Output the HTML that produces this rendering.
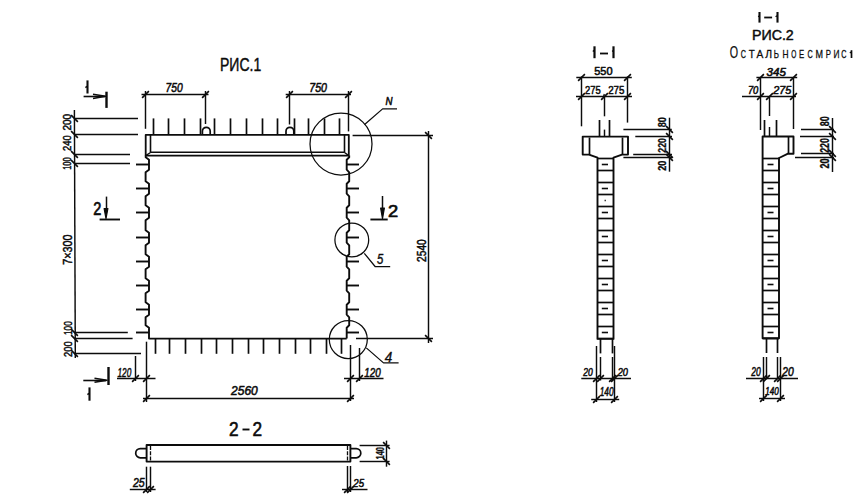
<!DOCTYPE html>
<html><head><meta charset="utf-8"><style>
html,body{margin:0;padding:0;background:#fff;width:860px;height:499px;overflow:hidden}
svg{display:block}
text{font-family:"Liberation Sans",sans-serif;fill:#0c0c0c;stroke:none}
</style></head><body>
<svg width="860" height="499" viewBox="0 0 860 499">
<g stroke="#0c0c0c" stroke-linecap="butt" stroke-linejoin="round" fill="none">
<text x="220.03" y="71.48" font-size="18.13" textLength="41.15" lengthAdjust="spacingAndGlyphs" style="stroke:#0c0c0c;stroke-width:0.45px">РИС.1</text>
<line x1="87.5" y1="80.4" x2="87.5" y2="93.5" stroke-width="2.1"/>
<line x1="85.4" y1="87.6" x2="87" y2="86.4" stroke-width="1.5"/>
<line x1="83.6" y1="96.5" x2="105" y2="96.5" stroke-width="1.6"/>
<path d="M93,94.3 L105.5,96.3 L93,98.4" stroke-width="1.5" fill="none"/>
<line x1="106.5" y1="91.7" x2="106.5" y2="107.9" stroke-width="2.4"/>
<line x1="89.5" y1="387.4" x2="89.5" y2="400.7" stroke-width="2.1"/>
<line x1="87.4" y1="394.6" x2="89" y2="393.4" stroke-width="1.5"/>
<line x1="83.3" y1="380.5" x2="106" y2="380.5" stroke-width="1.6"/>
<path d="M94.5,378.2 L107,380.2 L94.5,382.3" stroke-width="1.5" fill="none"/>
<line x1="108.5" y1="367" x2="108.5" y2="385" stroke-width="2.4"/>
<text x="93.35" y="215.05" font-size="18.02" textLength="8.1" lengthAdjust="spacingAndGlyphs" style="stroke:#0c0c0c;stroke-width:0.7px">2</text>
<line x1="106.5" y1="196.6" x2="106.5" y2="212" stroke-width="1.5"/>
<path d="M104.1,208.5 L106,218.7 L107.9,208.5 Z" stroke-width="1.2" fill="#0c0c0c"/>
<line x1="99.6" y1="219.5" x2="120" y2="219.5" stroke-width="1.9"/>
<line x1="382.5" y1="196" x2="382.5" y2="212" stroke-width="1.5"/>
<path d="M380.6,208 L382.5,218.7 L384.4,208 Z" stroke-width="1.2" fill="#0c0c0c"/>
<line x1="370.4" y1="219.5" x2="387.7" y2="219.5" stroke-width="1.9"/>
<text x="388.05" y="216.95" font-size="17.18" textLength="10.2" lengthAdjust="spacingAndGlyphs" style="stroke:#0c0c0c;stroke-width:0.7px">2</text>
<line x1="74.4" y1="110" x2="75.3" y2="358" stroke-width="1.45"/>
<line x1="71.1" y1="115.1" x2="77.9" y2="121.9" stroke-width="1.6"/>
<line x1="71.1" y1="131.1" x2="77.9" y2="137.9" stroke-width="1.6"/>
<line x1="71.1" y1="151.1" x2="77.9" y2="157.9" stroke-width="1.6"/>
<line x1="71.1" y1="160.1" x2="77.9" y2="166.9" stroke-width="1.6"/>
<line x1="71.1" y1="329.1" x2="77.9" y2="335.9" stroke-width="1.6"/>
<line x1="71.1" y1="335.1" x2="77.9" y2="341.9" stroke-width="1.6"/>
<line x1="71.1" y1="350.1" x2="77.9" y2="356.9" stroke-width="1.6"/>
<line x1="74" y1="118.5" x2="138" y2="118.5" stroke-width="1.45"/>
<line x1="74" y1="134.5" x2="138" y2="134.5" stroke-width="1.45"/>
<line x1="74" y1="154.5" x2="130" y2="154.5" stroke-width="1.45"/>
<line x1="74" y1="163.5" x2="130" y2="163.5" stroke-width="1.45"/>
<line x1="74" y1="332.5" x2="127.8" y2="332.5" stroke-width="1.45"/>
<line x1="74" y1="338.5" x2="132.6" y2="338.5" stroke-width="1.45"/>
<line x1="74" y1="353.5" x2="141" y2="353.5" stroke-width="1.45"/>
<text transform="translate(71.45,130.55) rotate(-90)" x="0" y="0" font-size="11.65" textLength="16.7" lengthAdjust="spacingAndGlyphs" style="stroke:#0c0c0c;stroke-width:0.5px">200</text>
<text transform="translate(71.35,150.95) rotate(-90)" x="0" y="0" font-size="11.51" textLength="15.7" lengthAdjust="spacingAndGlyphs" style="stroke:#0c0c0c;stroke-width:0.5px">240</text>
<text transform="translate(71.35,169.85) rotate(-90)" x="0" y="0" font-size="11.51" textLength="12.6" lengthAdjust="spacingAndGlyphs" style="stroke:#0c0c0c;stroke-width:0.5px">100</text>
<text transform="translate(71.95,264.75) rotate(-90)" x="0" y="0" font-size="12.63" textLength="30.3" lengthAdjust="spacingAndGlyphs" style="stroke:#0c0c0c;stroke-width:0.5px">7×300</text>
<text transform="translate(71.75,335.05) rotate(-90)" x="0" y="0" font-size="11.79" textLength="13.9" lengthAdjust="spacingAndGlyphs" style="stroke:#0c0c0c;stroke-width:0.5px">100</text>
<text transform="translate(71.75,357.05) rotate(-90)" x="0" y="0" font-size="11.79" textLength="15.7" lengthAdjust="spacingAndGlyphs" style="stroke:#0c0c0c;stroke-width:0.5px">200</text>
<line x1="141.5" y1="94.5" x2="208.5" y2="94.5" stroke-width="1.45"/>
<line x1="142.1" y1="97.9" x2="148.9" y2="91.1" stroke-width="1.6"/>
<line x1="202.1" y1="97.9" x2="208.9" y2="91.1" stroke-width="1.6"/>
<line x1="145.5" y1="91" x2="145.5" y2="128.8" stroke-width="1.45"/>
<line x1="205.5" y1="91" x2="205.5" y2="124" stroke-width="1.45"/>
<text x="165.58" y="92.12" font-size="12.58" textLength="17.15" lengthAdjust="spacingAndGlyphs" font-style="italic" style="stroke:#0c0c0c;stroke-width:0.55px">750</text>
<line x1="285.7" y1="94.5" x2="351" y2="94.5" stroke-width="1.45"/>
<line x1="286.1" y1="97.9" x2="292.9" y2="91.1" stroke-width="1.6"/>
<line x1="345.1" y1="97.9" x2="351.9" y2="91.1" stroke-width="1.6"/>
<line x1="289.5" y1="91" x2="289.5" y2="124.5" stroke-width="1.45"/>
<line x1="348.5" y1="91" x2="348.5" y2="131.4" stroke-width="1.45"/>
<text x="309.27" y="92.12" font-size="12.58" textLength="17.75" lengthAdjust="spacingAndGlyphs" font-style="italic" style="stroke:#0c0c0c;stroke-width:0.55px">750</text>
<path d="M145.7,155.6 V134.8 H348.8 V155.6 Z" stroke-width="1.8" fill="none"/>
<line x1="150.5" y1="134.8" x2="150.5" y2="152.3" stroke-width="1.6"/>
<line x1="344.5" y1="134.8" x2="344.5" y2="152.3" stroke-width="1.6"/>
<path d="M150.9,152.3 H344.2" stroke-width="1.5" fill="none"/>
<path d="M145.7,155.6 L150.9,152.3 M348.8,155.6 L344.2,152.3" stroke-width="1.3" fill="none"/>
<line x1="153.5" y1="118.4" x2="153.5" y2="134.8" stroke-width="1.7"/>
<line x1="168.5" y1="118.4" x2="168.5" y2="134.8" stroke-width="1.7"/>
<line x1="184.5" y1="118.4" x2="184.5" y2="134.8" stroke-width="1.7"/>
<line x1="200.5" y1="118.4" x2="200.5" y2="134.8" stroke-width="1.7"/>
<line x1="214.5" y1="118.4" x2="214.5" y2="134.8" stroke-width="1.7"/>
<line x1="230.5" y1="118.4" x2="230.5" y2="134.8" stroke-width="1.7"/>
<line x1="246.5" y1="118.4" x2="246.5" y2="134.8" stroke-width="1.7"/>
<line x1="262.5" y1="118.4" x2="262.5" y2="134.8" stroke-width="1.7"/>
<line x1="277.5" y1="118.4" x2="277.5" y2="134.8" stroke-width="1.7"/>
<line x1="294.5" y1="118.4" x2="294.5" y2="134.8" stroke-width="1.7"/>
<line x1="308.5" y1="118.4" x2="308.5" y2="134.8" stroke-width="1.7"/>
<line x1="324.5" y1="118.4" x2="324.5" y2="134.8" stroke-width="1.7"/>
<line x1="339.5" y1="118.4" x2="339.5" y2="134.8" stroke-width="1.7"/>
<path d="M202.4,134.8 V131.2 A3.9,3.9 0 0 1 210.2,131.2 V134.8" stroke-width="1.7" fill="none"/>
<path d="M286,134.8 V131.2 A3.9,3.9 0 0 1 293.8,131.2 V134.8" stroke-width="1.7" fill="none"/>
<path d="M145.7,155.5 V157.3 L149,159.7 V169.7 L145.6,172.3 V181.3 L149,183.7 V193.7 L145.6,196.3 V205.3 L149,207.7 V217.7 L145.6,220.3 V230.3 L149,232.7 V242.7 L145.6,245.3 V254.3 L149,256.7 V266.7 L145.6,269.3 V278.3 L149,280.7 V290.7 L145.6,293.3 V302.3 L149,304.7 V314.7 L145.6,317.3 V325.3 L149,327.7 V338.6 H346.7" stroke-width="1.9" fill="none"/>
<path d="M346.7,338.6 V327.7 L349.2,325.3 V317.3 L346.7,314.7 V304.7 L349.2,302.3 V293.3 L346.7,290.7 V280.7 L349.2,278.3 V269.3 L346.7,266.7 V256.7 L349.2,254.3 V245.3 L346.7,242.7 V232.7 L349.2,230.3 V220.3 L346.7,217.7 V207.7 L349.2,205.3 V196.3 L346.7,193.7 V183.7 L349.2,181.3 V172.3 L346.7,169.7 V159.7 L349.2,157.3 V155.5" stroke-width="1.9" fill="none"/>
<line x1="136" y1="164.5" x2="149" y2="164.5" stroke-width="1.9"/>
<line x1="346.7" y1="164.5" x2="359" y2="164.5" stroke-width="1.9"/>
<line x1="136" y1="188.5" x2="149" y2="188.5" stroke-width="1.9"/>
<line x1="346.7" y1="188.5" x2="359" y2="188.5" stroke-width="1.9"/>
<line x1="136" y1="212.5" x2="149" y2="212.5" stroke-width="1.9"/>
<line x1="346.7" y1="212.5" x2="359" y2="212.5" stroke-width="1.9"/>
<line x1="136" y1="237.5" x2="149" y2="237.5" stroke-width="1.9"/>
<line x1="346.7" y1="237.5" x2="359" y2="237.5" stroke-width="1.9"/>
<line x1="136" y1="261.5" x2="149" y2="261.5" stroke-width="1.9"/>
<line x1="346.7" y1="261.5" x2="359" y2="261.5" stroke-width="1.9"/>
<line x1="136" y1="285.5" x2="149" y2="285.5" stroke-width="1.9"/>
<line x1="346.7" y1="285.5" x2="359" y2="285.5" stroke-width="1.9"/>
<line x1="136" y1="309.5" x2="149" y2="309.5" stroke-width="1.9"/>
<line x1="346.7" y1="309.5" x2="359" y2="309.5" stroke-width="1.9"/>
<line x1="136" y1="332.5" x2="149" y2="332.5" stroke-width="1.9"/>
<line x1="346.7" y1="332.5" x2="359" y2="332.5" stroke-width="1.9"/>
<line x1="155.5" y1="338.6" x2="155.5" y2="353.8" stroke-width="1.7"/>
<line x1="169.5" y1="338.6" x2="169.5" y2="353.8" stroke-width="1.7"/>
<line x1="185.5" y1="338.6" x2="185.5" y2="353.8" stroke-width="1.7"/>
<line x1="201.5" y1="338.6" x2="201.5" y2="353.8" stroke-width="1.7"/>
<line x1="216.5" y1="338.6" x2="216.5" y2="353.8" stroke-width="1.7"/>
<line x1="232.5" y1="338.6" x2="232.5" y2="353.8" stroke-width="1.7"/>
<line x1="248.5" y1="338.6" x2="248.5" y2="353.8" stroke-width="1.7"/>
<line x1="263.5" y1="338.6" x2="263.5" y2="353.8" stroke-width="1.7"/>
<line x1="279.5" y1="338.6" x2="279.5" y2="353.8" stroke-width="1.7"/>
<line x1="295.5" y1="338.6" x2="295.5" y2="353.8" stroke-width="1.7"/>
<line x1="310.5" y1="338.6" x2="310.5" y2="353.8" stroke-width="1.7"/>
<line x1="326.5" y1="338.6" x2="326.5" y2="353.8" stroke-width="1.7"/>
<line x1="341.5" y1="338.6" x2="341.5" y2="353.8" stroke-width="1.7"/>
<circle cx="341" cy="144" r="31" stroke-width="1.25" fill="none"/>
<path d="M364.6,124.5 L382.6,108.9 H397" stroke-width="1.25" fill="none"/>
<text x="385.5" y="105" font-size="10" font-style="italic" style="stroke:#0c0c0c;stroke-width:0.5px" textLength="7" lengthAdjust="spacingAndGlyphs">N</text>
<circle cx="351.8" cy="240" r="16.9" stroke-width="1.25" fill="none"/>
<path d="M364.3,253.3 L375.1,266.5 H390.2" stroke-width="1.25" fill="none"/>
<text x="377" y="264.3" font-size="13.8" font-style="italic" style="stroke:#0c0c0c;stroke-width:0.4px" textLength="6.3" lengthAdjust="spacingAndGlyphs">5</text>
<circle cx="348.3" cy="339.5" r="19" stroke-width="1.25" fill="none"/>
<path d="M366.3,347.9 L383.5,362.9 H398.6" stroke-width="1.25" fill="none"/>
<text x="384.8" y="362" font-size="14" font-style="italic" style="stroke:#0c0c0c;stroke-width:0.4px" textLength="7.5" lengthAdjust="spacingAndGlyphs">4</text>
<line x1="352.6" y1="135.5" x2="433" y2="135.5" stroke-width="1.45"/>
<line x1="356" y1="338.5" x2="433" y2="338.5" stroke-width="1.45"/>
<line x1="428.5" y1="131" x2="428.5" y2="343" stroke-width="1.45"/>
<line x1="425.1" y1="132.1" x2="431.9" y2="138.9" stroke-width="1.6"/>
<line x1="425.1" y1="335.1" x2="431.9" y2="341.9" stroke-width="1.6"/>
<text transform="translate(425.75,261.95) rotate(-90)" x="0" y="0" font-size="12.07" textLength="22.7" lengthAdjust="spacingAndGlyphs" style="stroke:#0c0c0c;stroke-width:0.5px">2540</text>
<line x1="146.5" y1="341.7" x2="146.5" y2="402" stroke-width="1.45"/>
<line x1="135.5" y1="356" x2="135.5" y2="381" stroke-width="1.45"/>
<line x1="117" y1="378.5" x2="155.5" y2="378.5" stroke-width="1.45"/>
<line x1="132.1" y1="381.9" x2="138.9" y2="375.1" stroke-width="1.6"/>
<line x1="143.1" y1="381.9" x2="149.9" y2="375.1" stroke-width="1.6"/>
<text x="117.48" y="376.73" font-size="13.42" textLength="13.75" lengthAdjust="spacingAndGlyphs" font-style="italic" style="stroke:#0c0c0c;stroke-width:0.55px">120</text>
<line x1="350.5" y1="345" x2="350.5" y2="401" stroke-width="1.45"/>
<line x1="359.5" y1="348" x2="359.5" y2="381" stroke-width="1.45"/>
<line x1="344" y1="378.5" x2="383.5" y2="378.5" stroke-width="1.45"/>
<line x1="347.1" y1="381.9" x2="353.9" y2="375.1" stroke-width="1.6"/>
<line x1="356.1" y1="381.9" x2="362.9" y2="375.1" stroke-width="1.6"/>
<text x="364.27" y="376.53" font-size="12.44" textLength="16.45" lengthAdjust="spacingAndGlyphs" font-style="italic" style="stroke:#0c0c0c;stroke-width:0.55px">120</text>
<line x1="143" y1="398.5" x2="354" y2="398.5" stroke-width="1.45"/>
<line x1="143.1" y1="401.9" x2="149.9" y2="395.1" stroke-width="1.6"/>
<line x1="347.1" y1="401.9" x2="353.9" y2="395.1" stroke-width="1.6"/>
<text x="231.08" y="394.93" font-size="12.3" textLength="26.65" lengthAdjust="spacingAndGlyphs" font-style="italic" style="stroke:#0c0c0c;stroke-width:0.55px">2560</text>
<text x="228.9" y="435.7" font-size="19.37" textLength="9.6" lengthAdjust="spacingAndGlyphs" style="stroke:#0c0c0c;stroke-width:0.6px">2</text>
<text x="252.6" y="435.7" font-size="19.37" textLength="9.6" lengthAdjust="spacingAndGlyphs" style="stroke:#0c0c0c;stroke-width:0.6px">2</text>
<line x1="242.5" y1="429.5" x2="249.5" y2="429.5" stroke-width="1.9"/>
<path d="M146.6,445 H350.4 V461.6 H146.6 Z" stroke-width="1.9" fill="none"/>
<path d="M150.5,446 V461 M347.5,446 V461" stroke-width="1.3" stroke-dasharray="4,1.2"/>
<path d="M146.6,448.6 H140.3 A4.6,4.6 0 0 0 140.3,457.8 H146.6" stroke-width="1.7" fill="none"/>
<path d="M350.4,448.6 H356.2 A4.6,4.6 0 0 1 356.2,457.8 H350.4" stroke-width="1.7" fill="none"/>
<line x1="146.5" y1="466.7" x2="146.5" y2="492" stroke-width="1.45"/>
<line x1="150.5" y1="466.7" x2="150.5" y2="492" stroke-width="1.45"/>
<line x1="129.8" y1="489.5" x2="155.6" y2="489.5" stroke-width="1.45"/>
<line x1="143.1" y1="492.9" x2="149.9" y2="486.1" stroke-width="1.6"/>
<line x1="147.1" y1="492.9" x2="153.9" y2="486.1" stroke-width="1.6"/>
<text x="132.97" y="486.93" font-size="12.02" textLength="11.75" lengthAdjust="spacingAndGlyphs" font-style="italic" style="stroke:#0c0c0c;stroke-width:0.55px">25</text>
<line x1="347.5" y1="466" x2="347.5" y2="492" stroke-width="1.45"/>
<line x1="350.5" y1="466" x2="350.5" y2="492" stroke-width="1.45"/>
<line x1="342" y1="489.5" x2="367.5" y2="489.5" stroke-width="1.45"/>
<line x1="344.1" y1="492.9" x2="350.9" y2="486.1" stroke-width="1.6"/>
<line x1="347.1" y1="492.9" x2="353.9" y2="486.1" stroke-width="1.6"/>
<text x="353.27" y="486.93" font-size="10.48" textLength="10.75" lengthAdjust="spacingAndGlyphs" font-style="italic" style="stroke:#0c0c0c;stroke-width:0.55px">25</text>
<line x1="359.6" y1="445.5" x2="389.6" y2="445.5" stroke-width="1.45"/>
<line x1="359.6" y1="461.5" x2="389.6" y2="461.5" stroke-width="1.45"/>
<line x1="386.5" y1="440.6" x2="386.5" y2="466.7" stroke-width="1.45"/>
<line x1="383.1" y1="442.1" x2="389.9" y2="448.9" stroke-width="1.6"/>
<line x1="383.1" y1="458.1" x2="389.9" y2="464.9" stroke-width="1.6"/>
<text transform="translate(384.35,459.45) rotate(-90)" x="0" y="0" font-size="10.17" textLength="12.3" lengthAdjust="spacingAndGlyphs" font-weight="bold" style="stroke:#0c0c0c;stroke-width:0.3px">140</text>
<line x1="594.5" y1="46.3" x2="594.5" y2="58.2" stroke-width="2.2"/>
<line x1="592.8" y1="51.5" x2="594.3" y2="50.3" stroke-width="1.4"/>
<line x1="600" y1="53.5" x2="608" y2="53.5" stroke-width="1.8"/>
<line x1="613.5" y1="46.3" x2="613.5" y2="58.2" stroke-width="2.2"/>
<line x1="612.2" y1="51.5" x2="613.7" y2="50.3" stroke-width="1.4"/>
<text x="594.17" y="75.12" font-size="11.18" textLength="18.35" lengthAdjust="spacingAndGlyphs" style="stroke:#0c0c0c;stroke-width:0.55px">550</text>
<line x1="576.3" y1="77.5" x2="631.8" y2="77.5" stroke-width="1.45"/>
<line x1="578.1" y1="80.9" x2="584.9" y2="74.1" stroke-width="1.6"/>
<line x1="624.1" y1="80.9" x2="630.9" y2="74.1" stroke-width="1.6"/>
<line x1="576" y1="96.5" x2="632" y2="96.5" stroke-width="1.45"/>
<line x1="578.1" y1="99.9" x2="584.9" y2="93.1" stroke-width="1.6"/>
<line x1="601.1" y1="99.9" x2="607.9" y2="93.1" stroke-width="1.6"/>
<line x1="624.1" y1="99.9" x2="630.9" y2="93.1" stroke-width="1.6"/>
<text x="584.98" y="93.92" font-size="11.74" textLength="15.65" lengthAdjust="spacingAndGlyphs" style="stroke:#0c0c0c;stroke-width:0.55px">275</text>
<text x="608.17" y="93.92" font-size="11.74" textLength="16.25" lengthAdjust="spacingAndGlyphs" style="stroke:#0c0c0c;stroke-width:0.55px">275</text>
<line x1="604.3" y1="94" x2="603.6" y2="96.5" stroke-width="1.3"/>
<line x1="581.5" y1="76.5" x2="581.5" y2="126.3" stroke-width="1.45"/>
<line x1="627.5" y1="76.5" x2="627.5" y2="122.6" stroke-width="1.45"/>
<line x1="604.5" y1="96" x2="604.5" y2="116.3" stroke-width="1.45"/>
<line x1="604.5" y1="129.6" x2="604.5" y2="136.6" stroke-width="1.45"/>
<line x1="599.5" y1="120" x2="599.5" y2="136.6" stroke-width="1.7"/>
<line x1="609.5" y1="120" x2="609.5" y2="136.6" stroke-width="1.7"/>
<path d="M589,154.6 H582.7 V136.6 H628 V154.6 H622 L613.5,157.7 V338.9 H597.5 V157.7 Z" stroke-width="1.9" fill="none"/>
<line x1="589.5" y1="137.5" x2="589.5" y2="154.6" stroke-width="1.7"/>
<line x1="622.5" y1="137.5" x2="622.5" y2="154.6" stroke-width="1.7"/>
<line x1="597.5" y1="158.5" x2="613.5" y2="158.5" stroke-width="1.7"/>
<line x1="597.5" y1="170.5" x2="613.5" y2="170.5" stroke-width="1.7"/>
<line x1="597.5" y1="182.5" x2="613.5" y2="182.5" stroke-width="1.7"/>
<line x1="597.5" y1="194.5" x2="613.5" y2="194.5" stroke-width="1.7"/>
<line x1="597.5" y1="206.5" x2="613.5" y2="206.5" stroke-width="1.7"/>
<line x1="597.5" y1="218.5" x2="613.5" y2="218.5" stroke-width="1.7"/>
<line x1="597.5" y1="230.5" x2="613.5" y2="230.5" stroke-width="1.7"/>
<line x1="597.5" y1="242.5" x2="613.5" y2="242.5" stroke-width="1.7"/>
<line x1="597.5" y1="254.5" x2="613.5" y2="254.5" stroke-width="1.7"/>
<line x1="597.5" y1="266.5" x2="613.5" y2="266.5" stroke-width="1.7"/>
<line x1="597.5" y1="278.5" x2="613.5" y2="278.5" stroke-width="1.7"/>
<line x1="597.5" y1="290.5" x2="613.5" y2="290.5" stroke-width="1.7"/>
<line x1="597.5" y1="302.5" x2="613.5" y2="302.5" stroke-width="1.7"/>
<line x1="597.5" y1="314.5" x2="613.5" y2="314.5" stroke-width="1.7"/>
<line x1="597.5" y1="326.5" x2="613.5" y2="326.5" stroke-width="1.7"/>
<line x1="597.5" y1="338.5" x2="613.5" y2="338.5" stroke-width="1.7"/>
<line x1="601.8" y1="164.5" x2="608" y2="164.5" stroke-width="1.6"/>
<line x1="601.8" y1="188.5" x2="608" y2="188.5" stroke-width="1.6"/>
<line x1="601.8" y1="212.5" x2="608" y2="212.5" stroke-width="1.6"/>
<line x1="601.8" y1="236.5" x2="608" y2="236.5" stroke-width="1.6"/>
<line x1="601.8" y1="260.5" x2="608" y2="260.5" stroke-width="1.6"/>
<line x1="601.8" y1="284.5" x2="608" y2="284.5" stroke-width="1.6"/>
<line x1="601.8" y1="308.5" x2="608" y2="308.5" stroke-width="1.6"/>
<line x1="601.8" y1="332.5" x2="608" y2="332.5" stroke-width="1.6"/>
<line x1="604.6" y1="200.5" x2="605.8" y2="200.5" stroke-width="1.4"/>
<line x1="600.5" y1="338.9" x2="600.5" y2="353.4" stroke-width="1.7"/>
<line x1="612.5" y1="338.9" x2="612.5" y2="353.4" stroke-width="1.7"/>
<line x1="600.5" y1="357" x2="600.5" y2="380.5" stroke-width="1.45"/>
<line x1="612.5" y1="357" x2="612.5" y2="380.5" stroke-width="1.45"/>
<line x1="596.5" y1="346" x2="596.5" y2="402" stroke-width="1.45"/>
<line x1="614.5" y1="346" x2="614.5" y2="402" stroke-width="1.45"/>
<line x1="581.3" y1="378.5" x2="631" y2="378.5" stroke-width="1.45"/>
<line x1="593.1" y1="381.9" x2="599.9" y2="375.1" stroke-width="1.6"/>
<line x1="597.1" y1="381.9" x2="603.9" y2="375.1" stroke-width="1.6"/>
<line x1="609.1" y1="381.9" x2="615.9" y2="375.1" stroke-width="1.6"/>
<line x1="611.1" y1="381.9" x2="617.9" y2="375.1" stroke-width="1.6"/>
<text x="583.27" y="375.73" font-size="10.9" textLength="9.45" lengthAdjust="spacingAndGlyphs" font-style="italic" style="stroke:#0c0c0c;stroke-width:0.55px">20</text>
<text x="617.67" y="375.73" font-size="10.9" textLength="10.25" lengthAdjust="spacingAndGlyphs" font-style="italic" style="stroke:#0c0c0c;stroke-width:0.55px">20</text>
<line x1="591.2" y1="399.5" x2="619.2" y2="399.5" stroke-width="1.45"/>
<line x1="593.1" y1="402.9" x2="599.9" y2="396.1" stroke-width="1.6"/>
<line x1="611.1" y1="402.9" x2="617.9" y2="396.1" stroke-width="1.6"/>
<text x="599.67" y="396.43" font-size="12.02" textLength="13.85" lengthAdjust="spacingAndGlyphs" font-style="italic" style="stroke:#0c0c0c;stroke-width:0.55px">140</text>
<line x1="623.4" y1="129.5" x2="671.8" y2="129.5" stroke-width="1.45"/>
<line x1="635.3" y1="136.5" x2="672" y2="136.5" stroke-width="1.45"/>
<line x1="633.2" y1="154.5" x2="672" y2="154.5" stroke-width="1.45"/>
<line x1="623.4" y1="157.5" x2="672" y2="157.5" stroke-width="1.45"/>
<line x1="669.5" y1="117.7" x2="669.5" y2="171.7" stroke-width="1.45"/>
<line x1="666.1" y1="126.1" x2="672.9" y2="132.9" stroke-width="1.6"/>
<line x1="666.1" y1="133.1" x2="672.9" y2="139.9" stroke-width="1.6"/>
<line x1="666.1" y1="151.1" x2="672.9" y2="157.9" stroke-width="1.6"/>
<line x1="666.1" y1="154.1" x2="672.9" y2="160.9" stroke-width="1.6"/>
<text transform="translate(666.35,127.35) rotate(-90)" x="0" y="0" font-size="11.57" textLength="10.2" lengthAdjust="spacingAndGlyphs" font-weight="bold" style="stroke:#0c0c0c;stroke-width:0.3px">80</text>
<text transform="translate(666.35,152.65) rotate(-90)" x="0" y="0" font-size="11.57" textLength="14.5" lengthAdjust="spacingAndGlyphs" font-weight="bold" style="stroke:#0c0c0c;stroke-width:0.3px">220</text>
<text transform="translate(666.35,170.85) rotate(-90)" x="0" y="0" font-size="11.57" textLength="10.2" lengthAdjust="spacingAndGlyphs" font-weight="bold" style="stroke:#0c0c0c;stroke-width:0.3px">20</text>
<line x1="759.5" y1="12" x2="759.5" y2="22.6" stroke-width="2.1"/>
<line x1="758.2" y1="16.8" x2="759.6" y2="15.8" stroke-width="1.4"/>
<line x1="764.2" y1="17.5" x2="772.1" y2="17.5" stroke-width="1.8"/>
<line x1="777.5" y1="12" x2="777.5" y2="22.6" stroke-width="2.1"/>
<line x1="775.6" y1="16.8" x2="777" y2="15.8" stroke-width="1.4"/>
<text x="751.93" y="40.07" font-size="13.8" textLength="41.85" lengthAdjust="spacingAndGlyphs" style="stroke:#0c0c0c;stroke-width:0.45px">РИС.2</text>
<text x="729.83" y="57.88" font-size="16.09" textLength="8.35" lengthAdjust="spacingAndGlyphs" style="stroke:#0c0c0c;stroke-width:0.25px">О</text>
<text x="740.85" y="57.85" font-size="11.15" textLength="5.2" lengthAdjust="spacingAndGlyphs" style="stroke:#0c0c0c;stroke-width:0.3px">С</text>
<text x="748.65" y="57.85" font-size="11.15" textLength="6" lengthAdjust="spacingAndGlyphs" style="stroke:#0c0c0c;stroke-width:0.3px">Т</text>
<text x="756.55" y="57.85" font-size="11.15" textLength="6.8" lengthAdjust="spacingAndGlyphs" style="stroke:#0c0c0c;stroke-width:0.3px">А</text>
<text x="765.15" y="57.85" font-size="11.15" textLength="6.8" lengthAdjust="spacingAndGlyphs" style="stroke:#0c0c0c;stroke-width:0.3px">Л</text>
<text x="773.85" y="57.85" font-size="11.15" textLength="5.2" lengthAdjust="spacingAndGlyphs" style="stroke:#0c0c0c;stroke-width:0.3px">Ь</text>
<text x="782.45" y="57.85" font-size="11.15" textLength="6" lengthAdjust="spacingAndGlyphs" style="stroke:#0c0c0c;stroke-width:0.3px">Н</text>
<text x="791.15" y="57.85" font-size="11.15" textLength="5.1" lengthAdjust="spacingAndGlyphs" style="stroke:#0c0c0c;stroke-width:0.3px">О</text>
<text x="798.95" y="57.85" font-size="11.15" textLength="5.2" lengthAdjust="spacingAndGlyphs" style="stroke:#0c0c0c;stroke-width:0.3px">Е</text>
<text x="807.55" y="57.85" font-size="11.15" textLength="5.2" lengthAdjust="spacingAndGlyphs" style="stroke:#0c0c0c;stroke-width:0.3px">С</text>
<text x="815.45" y="57.85" font-size="11.15" textLength="7.5" lengthAdjust="spacingAndGlyphs" style="stroke:#0c0c0c;stroke-width:0.3px">М</text>
<text x="825.65" y="57.85" font-size="11.15" textLength="5.2" lengthAdjust="spacingAndGlyphs" style="stroke:#0c0c0c;stroke-width:0.3px">Р</text>
<text x="833.45" y="57.85" font-size="11.15" textLength="6" lengthAdjust="spacingAndGlyphs" style="stroke:#0c0c0c;stroke-width:0.3px">И</text>
<text x="841.35" y="57.85" font-size="11.15" textLength="5.2" lengthAdjust="spacingAndGlyphs" style="stroke:#0c0c0c;stroke-width:0.3px">С</text>
<line x1="851.5" y1="50.2" x2="851.5" y2="58" stroke-width="1.7"/>
<line x1="849.8" y1="53" x2="851.5" y2="51.8" stroke-width="1.2"/>
<text x="766.57" y="75.72" font-size="10.2" textLength="19.25" lengthAdjust="spacingAndGlyphs" font-style="italic" style="stroke:#0c0c0c;stroke-width:0.55px">345</text>
<line x1="756.4" y1="77.5" x2="797.2" y2="77.5" stroke-width="1.45"/>
<line x1="757.1" y1="80.9" x2="763.9" y2="74.1" stroke-width="1.6"/>
<line x1="790.1" y1="80.9" x2="796.9" y2="74.1" stroke-width="1.6"/>
<line x1="742" y1="96.5" x2="796" y2="96.5" stroke-width="1.45"/>
<line x1="757.1" y1="99.9" x2="763.9" y2="93.1" stroke-width="1.6"/>
<line x1="766.1" y1="99.9" x2="772.9" y2="93.1" stroke-width="1.6"/>
<line x1="790.1" y1="99.9" x2="796.9" y2="93.1" stroke-width="1.6"/>
<text x="747.88" y="94.12" font-size="10.62" textLength="10.45" lengthAdjust="spacingAndGlyphs" font-style="italic" style="stroke:#0c0c0c;stroke-width:0.55px">70</text>
<text x="773.17" y="94.12" font-size="10.62" textLength="18.15" lengthAdjust="spacingAndGlyphs" font-style="italic" style="stroke:#0c0c0c;stroke-width:0.55px">275</text>
<line x1="760.5" y1="77" x2="760.5" y2="130" stroke-width="1.45"/>
<line x1="769.5" y1="96" x2="769.5" y2="116" stroke-width="1.45"/>
<line x1="769.5" y1="127" x2="769.5" y2="136.5" stroke-width="1.45"/>
<line x1="793.5" y1="77" x2="793.5" y2="129" stroke-width="1.45"/>
<line x1="764.5" y1="120" x2="764.5" y2="136.5" stroke-width="1.7"/>
<line x1="776.5" y1="120" x2="776.5" y2="136.5" stroke-width="1.7"/>
<path d="M762.6,338.2 V136.5 H793.5 V153.7 H788 L779,158 V338.2 Z" stroke-width="1.9" fill="none"/>
<line x1="788.5" y1="136.5" x2="788.5" y2="153.7" stroke-width="1.7"/>
<line x1="762.6" y1="158.5" x2="779" y2="158.5" stroke-width="1.7"/>
<line x1="762.6" y1="170.5" x2="779" y2="170.5" stroke-width="1.7"/>
<line x1="762.6" y1="182.5" x2="779" y2="182.5" stroke-width="1.7"/>
<line x1="762.6" y1="194.5" x2="779" y2="194.5" stroke-width="1.7"/>
<line x1="762.6" y1="206.5" x2="779" y2="206.5" stroke-width="1.7"/>
<line x1="762.6" y1="218.5" x2="779" y2="218.5" stroke-width="1.7"/>
<line x1="762.6" y1="230.5" x2="779" y2="230.5" stroke-width="1.7"/>
<line x1="762.6" y1="242.5" x2="779" y2="242.5" stroke-width="1.7"/>
<line x1="762.6" y1="254.5" x2="779" y2="254.5" stroke-width="1.7"/>
<line x1="762.6" y1="266.5" x2="779" y2="266.5" stroke-width="1.7"/>
<line x1="762.6" y1="278.5" x2="779" y2="278.5" stroke-width="1.7"/>
<line x1="762.6" y1="290.5" x2="779" y2="290.5" stroke-width="1.7"/>
<line x1="762.6" y1="302.5" x2="779" y2="302.5" stroke-width="1.7"/>
<line x1="762.6" y1="314.5" x2="779" y2="314.5" stroke-width="1.7"/>
<line x1="762.6" y1="326.5" x2="779" y2="326.5" stroke-width="1.7"/>
<line x1="762.6" y1="338.5" x2="779" y2="338.5" stroke-width="1.7"/>
<line x1="767.5" y1="164.5" x2="773.5" y2="164.5" stroke-width="1.6"/>
<line x1="767.5" y1="188.5" x2="773.5" y2="188.5" stroke-width="1.6"/>
<line x1="767.5" y1="212.5" x2="773.5" y2="212.5" stroke-width="1.6"/>
<line x1="767.5" y1="236.5" x2="773.5" y2="236.5" stroke-width="1.6"/>
<line x1="767.5" y1="260.5" x2="773.5" y2="260.5" stroke-width="1.6"/>
<line x1="767.5" y1="284.5" x2="773.5" y2="284.5" stroke-width="1.6"/>
<line x1="767.5" y1="308.5" x2="773.5" y2="308.5" stroke-width="1.6"/>
<line x1="767.5" y1="332.5" x2="773.5" y2="332.5" stroke-width="1.6"/>
<line x1="766.5" y1="338.2" x2="766.5" y2="353" stroke-width="1.7"/>
<line x1="777.5" y1="338.2" x2="777.5" y2="353" stroke-width="1.7"/>
<line x1="766.5" y1="357" x2="766.5" y2="378" stroke-width="1.45"/>
<line x1="777.5" y1="357" x2="777.5" y2="378" stroke-width="1.45"/>
<line x1="763.5" y1="357" x2="763.5" y2="401" stroke-width="1.45"/>
<line x1="780.5" y1="357" x2="780.5" y2="401" stroke-width="1.45"/>
<line x1="746" y1="378.5" x2="798" y2="378.5" stroke-width="1.45"/>
<line x1="760.1" y1="381.9" x2="766.9" y2="375.1" stroke-width="1.6"/>
<line x1="763.1" y1="381.9" x2="769.9" y2="375.1" stroke-width="1.6"/>
<line x1="774.1" y1="381.9" x2="780.9" y2="375.1" stroke-width="1.6"/>
<line x1="777.1" y1="381.9" x2="783.9" y2="375.1" stroke-width="1.6"/>
<text x="751.27" y="375.73" font-size="12.02" textLength="9.45" lengthAdjust="spacingAndGlyphs" font-style="italic" style="stroke:#0c0c0c;stroke-width:0.55px">20</text>
<text x="782.27" y="375.73" font-size="12.02" textLength="11.45" lengthAdjust="spacingAndGlyphs" font-style="italic" style="stroke:#0c0c0c;stroke-width:0.55px">20</text>
<line x1="759" y1="398.5" x2="785" y2="398.5" stroke-width="1.45"/>
<line x1="760.1" y1="401.9" x2="766.9" y2="395.1" stroke-width="1.6"/>
<line x1="777.1" y1="401.9" x2="783.9" y2="395.1" stroke-width="1.6"/>
<text x="765.27" y="394.73" font-size="10.62" textLength="13.45" lengthAdjust="spacingAndGlyphs" font-style="italic" style="stroke:#0c0c0c;stroke-width:0.55px">140</text>
<line x1="801" y1="129.5" x2="834" y2="129.5" stroke-width="1.45"/>
<line x1="800" y1="136.5" x2="834" y2="136.5" stroke-width="1.45"/>
<line x1="801" y1="153.5" x2="834" y2="153.5" stroke-width="1.45"/>
<line x1="795" y1="157.5" x2="834" y2="157.5" stroke-width="1.45"/>
<line x1="832.5" y1="118" x2="832.5" y2="172" stroke-width="1.45"/>
<line x1="829.1" y1="126.1" x2="835.9" y2="132.9" stroke-width="1.6"/>
<line x1="829.1" y1="133.1" x2="835.9" y2="139.9" stroke-width="1.6"/>
<line x1="829.1" y1="150.1" x2="835.9" y2="156.9" stroke-width="1.6"/>
<line x1="829.1" y1="154.1" x2="835.9" y2="160.9" stroke-width="1.6"/>
<text transform="translate(829.35,126.15) rotate(-90)" x="0" y="0" font-size="12.41" textLength="10" lengthAdjust="spacingAndGlyphs" font-weight="bold" style="stroke:#0c0c0c;stroke-width:0.3px">80</text>
<text transform="translate(829.35,152.85) rotate(-90)" x="0" y="0" font-size="12.41" textLength="14.7" lengthAdjust="spacingAndGlyphs" font-weight="bold" style="stroke:#0c0c0c;stroke-width:0.3px">220</text>
<text transform="translate(829.35,168.45) rotate(-90)" x="0" y="0" font-size="12.41" textLength="10.1" lengthAdjust="spacingAndGlyphs" font-weight="bold" style="stroke:#0c0c0c;stroke-width:0.3px">20</text>
</g>
</svg>
</body></html>
